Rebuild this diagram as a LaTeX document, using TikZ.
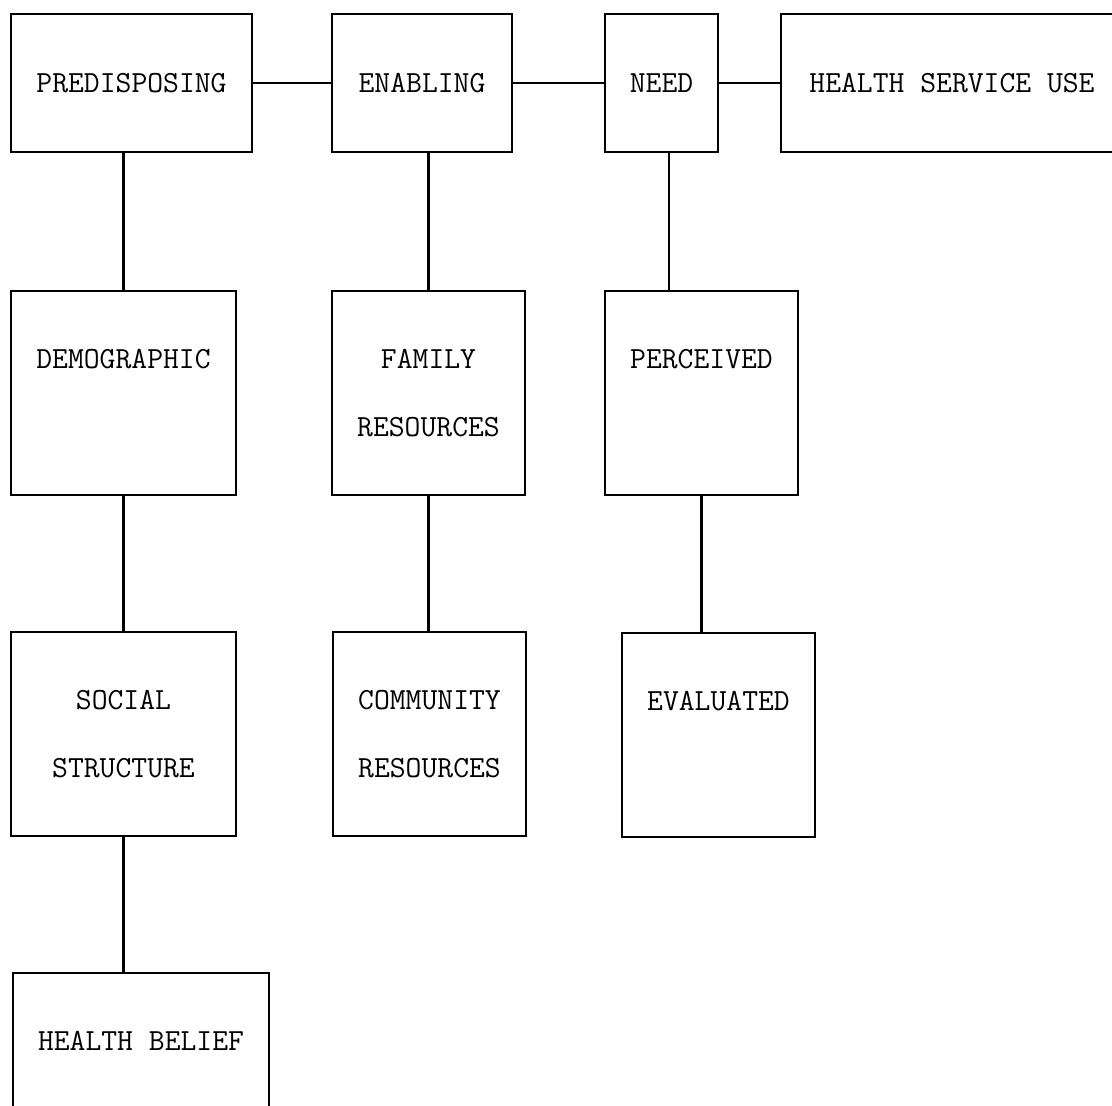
\documentclass[tikz,border=0pt]{standalone}
\begin{document}
\begin{tikzpicture}[line width=1.3pt]

      \useasboundingbox (0,0) rectangle (22.24,-22.12);

      \begin{scope}[every node/.style={rectangle, draw, inner sep=0pt, minimum height=4.08cm, align=center, font=\ttfamily\fontsize{17.5}{39}\selectfont}]
        \node[minimum width=4.82cm, minimum height=2.76cm] (pred)   at (2.63,-1.66)  {PREDISPOSING};
        \node[minimum width=3.60cm, minimum height=2.76cm] (enab)   at (8.44,-1.66)  {ENABLING};
        \node[minimum width=2.26cm, minimum height=2.76cm] (need)   at (13.23,-1.66) {NEED};
        \node[minimum width=6.84cm, minimum height=2.76cm] (hsu)    at (19.04,-1.66) {HEALTH SERVICE USE};
        \node[minimum width=4.50cm] (demo)   at (2.47,-7.86)  {DEMOGRAPHIC\\ \mbox{}};
        \node[minimum width=3.86cm] (family) at (8.57,-7.86)  {FAMILY\\RESOURCES};
        \node[minimum width=3.86cm] (perc)   at (14.03,-7.86) {PERCEIVED\\ \mbox{}};
        \node[minimum width=4.50cm] (social) at (2.47,-14.68) {SOCIAL\\STRUCTURE};
        \node[minimum width=3.86cm] (comm)   at (8.59,-14.68) {COMMUNITY\\RESOURCES};
        \node[minimum width=3.86cm] (eval)   at (14.37,-14.70) {EVALUATED\\ \mbox{}};
        \node[minimum width=5.12cm] (belief) at (2.82,-21.50) {HEALTH BELIEF\\ \mbox{}};
      \end{scope}

      \begin{scope}[every edge/.style={draw}]
        \path (pred)   edge (enab);
        \path (enab)   edge (need);
        \path (need)   edge (hsu);
        \path (demo.north)   edge (demo.north |- pred.south);
        \path (demo)   edge (social);
        \path (social.south) edge (social.south |- belief.north);
        \path (family.north) edge (family.north |- enab.south);
        \path (family.south) edge (family.south |- comm.north);
        \path ([xshift=0.15cm]need.south) edge ([xshift=0.15cm]need.south |- perc.north);
        \path (perc.south)   edge (perc.south |- eval.north);
      \end{scope}

    \end{tikzpicture}
\end{document}
